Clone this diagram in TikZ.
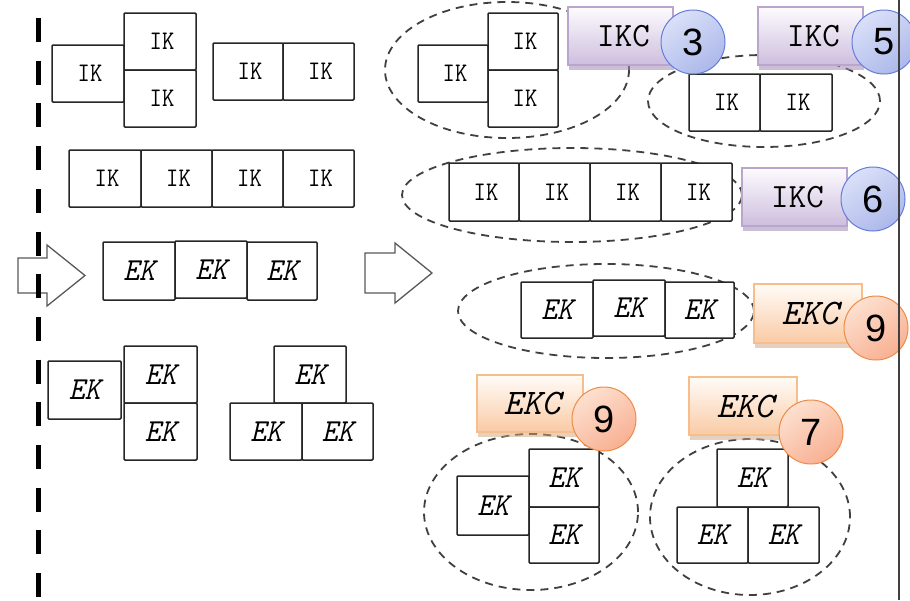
\documentclass[tikz,border=0pt]{standalone}
\usepackage{fontspec}
\usepackage{graphicx}
\usetikzlibrary{shapes.geometric,shadows}
\newfontfamily\csans{Liberation Sans}
\definecolor{ikcborder}{RGB}{185,165,205}
\definecolor{ikctop}{RGB}{253,251,254}
\definecolor{ikcbot}{RGB}{205,190,222}
\definecolor{ikcshadow}{RGB}{160,140,180}
\definecolor{bcfillA}{RGB}{218,224,248}
\definecolor{bcfillB}{RGB}{172,184,234}
\definecolor{bcborder}{RGB}{100,125,220}
\definecolor{ekcborder}{RGB}{247,190,140}
\definecolor{ekctop}{RGB}{255,252,248}
\definecolor{ekcbot}{RGB}{250,202,165}
\definecolor{ekcshadow}{RGB}{205,165,135}
\definecolor{ocfillA}{RGB}{253,224,208}
\definecolor{ocfillB}{RGB}{248,176,146}
\definecolor{ocborder}{RGB}{238,140,70}
\newcommand{\ikt}{\hspace*{4pt}\scalebox{1}[1.12]{\ttfamily\fontsize{24}{24}\selectfont IK}}
\newcommand{\ekt}{\scalebox{1}[1.07]{\ttfamily\itshape\fontsize{30}{30}\selectfont EK}}
\newcommand{\ikct}{\hspace*{6pt}\scalebox{1}[1.0]{\ttfamily\fontsize{34}{34}\selectfont IKC}}
\newcommand{\ekct}{\hspace*{4pt}\scalebox{1}[1.0]{\ttfamily\itshape\fontsize{36}{36}\selectfont EKC}}
\newcommand{\numt}[1]{{\csans\fontsize{38}{38}\selectfont #1}}
\newcommand{\bx}[7]{\node[#1,minimum width={#5-#3},minimum height={#6-#4}] (#2) at ({(#3+#5)/2},{(#4+#6)/2}) {#7};}
\newcommand{\grp}[5]{\node[grpell,minimum width={2*#4},minimum height={2*#5}] (#1) at (#2,#3) {};}
\tikzset{
  kbox/.style={draw=black!85, line width=1.5pt, fill=white, inner sep=0pt, outer sep=0pt, rounded corners=1pt},
  grpell/.style={ellipse, draw=black!75, line width=1.8pt, dash pattern=on 8pt off 6pt, inner sep=0pt},
  ikcbox/.style={draw=ikcborder, line width=1.2pt, top color=ikctop, bottom color=ikcbot, inner sep=0pt,
    drop shadow={shadow xshift=1pt, shadow yshift=-5pt, fill=ikcshadow, opacity=0.55}},
  ekcbox/.style={draw=ekcborder, line width=1.2pt, top color=ekctop, bottom color=ekcbot, inner sep=0pt,
    drop shadow={shadow xshift=1pt, shadow yshift=-5pt, fill=ekcshadow, opacity=0.5}},
  bluecirc/.style={circle, draw=bcborder, line width=1pt, minimum size=64pt, inner sep=0pt,
    shading=axis, top color=bcfillA, bottom color=bcfillB, shading angle=35},
  orcirc/.style={circle, draw=ocborder, line width=1pt, minimum size=64pt, inner sep=0pt,
    shading=axis, top color=ocfillA, bottom color=ocfillB, shading angle=35},
  blockarrow/.style={draw=black!65, line width=1.3pt, fill=white, line join=miter},
  sepline/.style={line width=5.5pt, dash pattern=on 24pt off 18.7pt},
  edgeline/.style={draw=black!75, line width=1.6pt}
}
\begin{document}
\begin{tikzpicture}[x=1pt,y=-1pt]
\useasboundingbox (0,0) rectangle (910,600);
\fill[white] (0,0) rectangle (910,600);
% ---- left column ----
\bx{kbox}{a1}{52}{45}{124}{102}{\ikt}
\bx{kbox}{a2}{124}{13}{196}{70}{\ikt}
\bx{kbox}{a3}{124}{70}{196}{127}{\ikt}
\bx{kbox}{b1}{213}{43}{283}{100}{\ikt}
\bx{kbox}{b2}{283}{43}{354}{100}{\ikt}
\bx{kbox}{c1}{69}{150}{141}{207}{\ikt}
\bx{kbox}{c2}{141}{150}{212}{207}{\ikt}
\bx{kbox}{c3}{212}{150}{283}{207}{\ikt}
\bx{kbox}{c4}{283}{150}{354}{207}{\ikt}
\bx{kbox}{d1}{103}{242}{175}{300}{\ekt}
\bx{kbox}{d2}{175}{241}{247}{298}{\ekt}
\bx{kbox}{d3}{247}{242}{317}{300}{\ekt}
\bx{kbox}{f1}{48}{361}{121}{419}{\ekt}
\bx{kbox}{f2}{124}{346}{197}{403}{\ekt}
\bx{kbox}{f3}{124}{403}{197}{460}{\ekt}
\bx{kbox}{g1}{274}{346}{346}{403}{\ekt}
\bx{kbox}{g2}{230}{403}{302}{460}{\ekt}
\bx{kbox}{g3}{302}{403}{373}{460}{\ekt}
% ---- group ellipses ----
\grp{e1}{507}{70}{122}{68}
\grp{e2}{764}{101}{116}{46}
\grp{e3}{572}{195}{170}{47}
\grp{e4}{606}{311}{148}{47}
\grp{e5}{531}{512}{107}{78}
\grp{e6}{750}{517}{100}{78}
% ---- right column boxes ----
\bx{kbox}{r1}{418}{45}{488}{102}{\ikt}
\bx{kbox}{r2}{488}{13}{558}{70}{\ikt}
\bx{kbox}{r3}{488}{70}{558}{127}{\ikt}
\bx{kbox}{s1}{689}{74}{760}{131}{\ikt}
\bx{kbox}{s2}{760}{74}{832}{131}{\ikt}
\bx{kbox}{t1}{449}{163}{519}{221}{\ikt}
\bx{kbox}{t2}{519}{163}{590}{221}{\ikt}
\bx{kbox}{t3}{590}{163}{661}{221}{\ikt}
\bx{kbox}{t4}{661}{163}{732}{221}{\ikt}
\bx{kbox}{u1}{521}{282}{593}{338}{\ekt}
\bx{kbox}{u2}{593}{280}{665}{336}{\ekt}
\bx{kbox}{u3}{665}{282}{734}{338}{\ekt}
\bx{kbox}{v1}{457}{476}{529}{535}{\ekt}
\bx{kbox}{v2}{529}{449}{599}{507}{\ekt}
\bx{kbox}{v3}{529}{507}{599}{563}{\ekt}
\bx{kbox}{w1}{717}{449}{788}{507}{\ekt}
\bx{kbox}{w2}{677}{507}{748}{563}{\ekt}
\bx{kbox}{w3}{748}{507}{819}{563}{\ekt}
% ---- labels ----
\bx{ikcbox}{L1}{568}{7}{673}{65}{\ikct}
\bx{ikcbox}{L2}{758}{7}{863}{65}{\ikct}
\bx{ikcbox}{L3}{742}{168}{847}{226}{\ikct}
\bx{ekcbox}{L4}{754}{284}{862}{343}{\ekct}
\bx{ekcbox}{L5}{477}{375}{583}{432}{\ekct}
\bx{ekcbox}{L6}{689}{377}{797}{435}{\ekct}
\node[bluecirc] (n1) at (693,42) {\numt{3}};
\node[bluecirc] (n2) at (884,42) {\numt{5}};
\node[bluecirc] (n3) at (873,199) {\numt{6}};
\node[orcirc] (n4) at (876,328) {\numt{9}};
\node[orcirc] (n5) at (604,419) {\numt{9}};
\node[orcirc] (n6) at (811,432) {\numt{7}};
% ---- block arrows ----
\draw[blockarrow] (18,258) -- (47,258) -- (47,245) -- (85,275.5) -- (47,306) -- (47,293) -- (18,293) -- cycle;
\draw[blockarrow] (365,253) -- (395,253) -- (395,243) -- (432,273) -- (395,303) -- (395,293) -- (365,293) -- cycle;
% ---- separators ----
\coordinate (sepT) at (38.5,-24.7);
\coordinate (sepB) at (38.5,610);
\draw[sepline] (sepT) -- (sepB);
\coordinate (edgeT) at (899,0);
\coordinate (edgeB) at (899,600);
\draw[edgeline] (edgeT) -- (edgeB);
\end{tikzpicture}
\end{document}
